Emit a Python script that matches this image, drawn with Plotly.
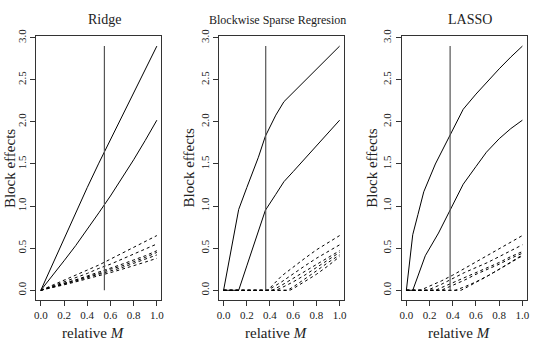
import plotly.graph_objects as go

# ---------------- data ----------------
ridge_x = [0, 0.1, 0.2, 0.3, 0.4, 0.5, 0.6, 0.7, 0.8, 0.9, 1.0]
ridge_solid = [
    [0, 0.31, 0.62, 0.92, 1.22, 1.51, 1.79, 2.07, 2.35, 2.63, 2.90],
    [0, 0.17, 0.35, 0.53, 0.72, 0.92, 1.12, 1.33, 1.55, 1.78, 2.02],
]
ridge_dashed = [
    [0, 0.060, 0.120, 0.180, 0.240, 0.300, 0.370, 0.440, 0.510, 0.580, 0.65],
    [0, 0.050, 0.100, 0.150, 0.200, 0.260, 0.310, 0.370, 0.430, 0.490, 0.55],
    [0, 0.040, 0.080, 0.125, 0.170, 0.215, 0.260, 0.310, 0.360, 0.410, 0.47],
    [0, 0.040, 0.080, 0.120, 0.160, 0.200, 0.250, 0.290, 0.340, 0.390, 0.45],
    [0, 0.035, 0.070, 0.110, 0.150, 0.190, 0.230, 0.270, 0.320, 0.370, 0.42],
    [0, 0.030, 0.065, 0.100, 0.135, 0.170, 0.210, 0.250, 0.290, 0.335, 0.38],
]
ridge_vline = 0.548

bsr_solid_x = [0, 0.13, 0.2, 0.3, 0.36, 0.45, 0.52, 0.6, 0.7, 0.8, 0.9, 1.0]
bsr_solid = [
    [0, 0.96, 1.22, 1.58, 1.83, 2.08, 2.24, 2.35, 2.49, 2.63, 2.77, 2.90],
    [0, 0.00, 0.29, 0.70, 0.95, 1.14, 1.29, 1.41, 1.56, 1.72, 1.87, 2.02],
]
bsr_dashed_x = [
    [0, 0.38, 0.5, 0.6, 0.7, 0.8, 0.9, 1.0],
    [0, 0.38, 0.5, 0.6, 0.7, 0.8, 0.9, 1.0],
    [0, 0.42, 0.5, 0.6, 0.7, 0.8, 0.9, 1.0],
    [0, 0.45, 0.5, 0.6, 0.7, 0.8, 0.9, 1.0],
    [0, 0.55, 0.6, 0.7, 0.8, 0.9, 1.0],
    [0, 0.57, 0.6, 0.7, 0.8, 0.9, 1.0],
]
bsr_dashed = [
    [0, 0, 0.17, 0.28, 0.38, 0.48, 0.57, 0.65],
    [0, 0, 0.10, 0.20, 0.29, 0.38, 0.46, 0.54],
    [0, 0, 0.06, 0.14, 0.22, 0.30, 0.38, 0.47],
    [0, 0, 0.03, 0.10, 0.18, 0.27, 0.36, 0.45],
    [0, 0, 0.04, 0.13, 0.23, 0.33, 0.42],
    [0, 0, 0.02, 0.10, 0.19, 0.29, 0.40],
]
bsr_vline = 0.363

lasso_solid_x = [
    [0, 0.055, 0.1, 0.15, 0.25, 0.377, 0.49, 0.6, 0.69, 0.8, 0.9, 1.0],
    [0, 0.055, 0.1, 0.163, 0.277, 0.377, 0.49, 0.6, 0.69, 0.8, 0.9, 1.0],
]
lasso_solid = [
    [0, 0.66, 0.90, 1.17, 1.50, 1.84, 2.15, 2.33, 2.47, 2.63, 2.77, 2.90],
    [0, 0.00, 0.17, 0.41, 0.68, 0.95, 1.26, 1.47, 1.64, 1.80, 1.92, 2.02],
]
lasso_dashed_x = [
    [0, 0.12, 0.2, 0.3, 0.4, 0.5, 0.6, 0.7, 0.8, 0.9, 1.0],
    [0, 0.18, 0.3, 0.4, 0.5, 0.6, 0.7, 0.8, 0.9, 1.0],
    [0, 0.25, 0.3, 0.4, 0.5, 0.6, 0.7, 0.8, 0.9, 1.0],
    [0, 0.30, 0.4, 0.5, 0.6, 0.7, 0.8, 0.9, 1.0],
    [0, 0.42, 0.5, 0.6, 0.7, 0.8, 0.9, 1.0],
    [0, 0.47, 0.5, 0.6, 0.7, 0.8, 0.9, 1.0],
]
lasso_dashed = [
    [0, 0, 0.05, 0.11, 0.18, 0.26, 0.33, 0.41, 0.49, 0.57, 0.65],
    [0, 0, 0.07, 0.14, 0.21, 0.27, 0.33, 0.40, 0.47, 0.54],
    [0, 0, 0.03, 0.09, 0.15, 0.21, 0.27, 0.33, 0.40, 0.46],
    [0, 0, 0.06, 0.12, 0.19, 0.25, 0.31, 0.38, 0.44],
    [0, 0, 0.04, 0.10, 0.17, 0.25, 0.33, 0.41],
    [0, 0, 0.02, 0.09, 0.17, 0.25, 0.33, 0.42],
]
lasso_vline = 0.377
vline_top = 2.9

titles = ["Ridge", "Blockwise Sparse Regresion", "LASSO"]
x_ticks = [0, 0.2, 0.4, 0.6, 0.8, 1.0]
x_ticktext = ["0.0", "0.2", "0.4", "0.6", "0.8", "1.0"]
y_ticks = [0, 0.5, 1.0, 1.5, 2.0, 2.5, 3.0]
y_ticktext = ["0.0", "0.5", "1.0", "1.5", "2.0", "2.5", "3.0"]
xlabel = "relative <i>M</i>"
ylabel = "Block effects"

# ---------------- figure ----------------
W, H = 534, 345
FONT = "Liberation Serif"
fig = go.Figure()

panels = [
    dict(solid=[(ridge_x, s) for s in ridge_solid],
         dashed=[(ridge_x, d) for d in ridge_dashed], v=ridge_vline),
    dict(solid=[(bsr_solid_x, s) for s in bsr_solid],
         dashed=list(zip(bsr_dashed_x, bsr_dashed)), v=bsr_vline),
    dict(solid=list(zip(lasso_solid_x, lasso_solid)),
         dashed=list(zip(lasso_dashed_x, lasso_dashed)), v=lasso_vline),
]

box_left = [34.5, 219.0, 403.5]
box_w = 126.5
box_top, box_bot = 29.0, 299.0

for i, p in enumerate(panels):
    xa = "x" if i == 0 else f"x{i+1}"
    ya = "y" if i == 0 else f"y{i+1}"
    for xs, ys in p["dashed"]:
        fig.add_trace(go.Scatter(x=xs, y=ys, mode="lines", xaxis=xa, yaxis=ya,
                                 line=dict(color="black", width=1, dash="3px,3px")))
    for xs, ys in p["solid"]:
        fig.add_trace(go.Scatter(x=xs, y=ys, mode="lines", xaxis=xa, yaxis=ya,
                                 line=dict(color="black", width=1)))
    fig.add_trace(go.Scatter(x=[p["v"], p["v"]], y=[0, vline_top], mode="lines",
                             xaxis=xa, yaxis=ya, line=dict(color="#555555", width=1.2)))

layout = dict(
    width=W, height=H, margin=dict(l=0, r=0, t=0, b=0),
    paper_bgcolor="white", plot_bgcolor="white", showlegend=False,
    font=dict(family=FONT, color="#222222"),
)
for i in range(3):
    sx = "" if i == 0 else str(i + 1)
    d0 = box_left[i] / W
    d1 = (box_left[i] + box_w) / W
    layout["xaxis" + sx] = dict(
        domain=[d0, d1], range=[-0.04, 1.04], anchor="y" + sx,
        tickvals=x_ticks, ticktext=x_ticktext, ticks="outside", ticklen=5,
        tickcolor="#333", showline=True, linecolor="#333", linewidth=1, mirror=True,
        showgrid=False, zeroline=False, tickfont=dict(size=11, family=FONT),
    )
    layout["yaxis" + sx] = dict(
        domain=[1 - box_bot / H, 1 - box_top / H], range=[-0.116, 3.016], anchor="x" + sx,
        tickvals=y_ticks, ticktext=y_ticktext, ticks="outside", ticklen=5,
        tickcolor="#333", showline=True, linecolor="#333", linewidth=1, mirror=True,
        showgrid=False, zeroline=False, tickangle=-90, tickfont=dict(size=11, family=FONT),
    )
fig.update_layout(**layout)

title_pos = [(103, 12, 14), (278, 12, 12), (472.5, 12, 14)]
xlab_pos = [92.8, 277.5, 462]
ylab_pos = [8, 189, 374]
ann = []
for i in range(3):
    tx, ty, ts = title_pos[i]
    ann.append(dict(text=titles[i], x=tx / W, y=1 - ty / H, xref="paper", yref="paper",
                    showarrow=False, xanchor="center", yanchor="middle",
                    font=dict(size=ts, family=FONT, color="#222")))
    ann.append(dict(text=xlabel, x=xlab_pos[i] / W, y=1 - 333 / H, xref="paper", yref="paper",
                    showarrow=False, xanchor="center", yanchor="middle",
                    font=dict(size=15, family=FONT, color="#222")))
    ann.append(dict(text=ylabel, x=ylab_pos[i] / W, y=1 - 164 / H, xref="paper", yref="paper",
                    showarrow=False, xanchor="center", yanchor="middle", textangle=-90,
                    font=dict(size=15, family=FONT, color="#222")))
fig.update_layout(annotations=ann)

fig.write_html("out.html")
